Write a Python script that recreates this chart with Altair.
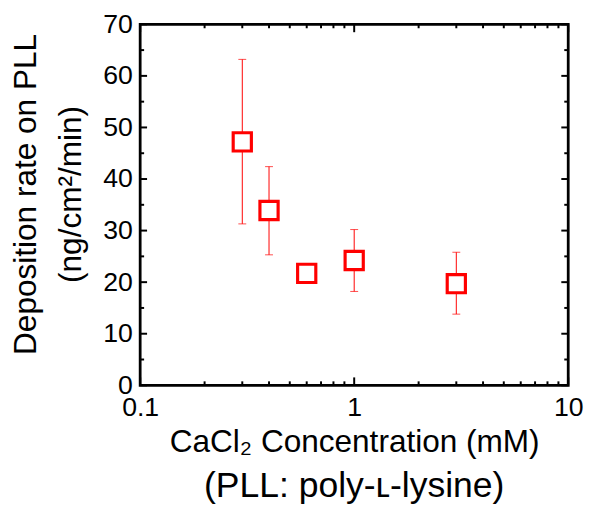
import altair as alt
import pandas as pd

conc = [0.3, 0.4, 0.6, 1.0, 3.0]
rate = [47.2, 33.9, 21.7, 24.2, 19.7]
err_lo = [31.3, 25.3, None, 18.2, 13.8]
err_hi = [63.2, 42.4, None, 30.2, 25.8]

y_major = [0, 10, 20, 30, 40, 50, 60, 70]
y_minor = [5, 15, 25, 35, 45, 55, 65]
x_major = [0.1, 1, 10]
x_minor = [0.2, 0.3, 0.4, 0.5, 0.6, 0.7, 0.8, 0.9, 2, 3, 4, 5, 6, 7, 8, 9]

W, H = 434, 366
RED = "#ff0000"
FONT = "Liberation Sans"

df = pd.DataFrame({"conc": conc, "rate": rate, "lo": err_lo, "hi": err_hi})
err_df = df.dropna()

xscale = alt.Scale(type="log", domain=[0.1, 10], nice=False)
yscale = alt.Scale(domain=[0, 70], nice=False, zero=False)

xaxis = alt.Axis(
    values=x_major, format="~g", ticks=False, grid=False, domain=False,
    labelFontSize=27, labelFont=FONT, labelColor="black", labelPadding=10,
    title="CaCl\u2082 Concentration (mM)",
    titleFontSize=32, titleFont=FONT, titleFontWeight="normal", titleColor="black",
    titlePadding=6, labelFlush=False,
)
yaxis = alt.Axis(
    values=y_major, ticks=False, grid=False, domain=False,
    labelFontSize=27, labelFont=FONT, labelColor="black", labelPadding=8,
    title=["Deposition rate on PLL", "(ng/cm\u00b2/min)"],
    titleFontSize=32, titleFont=FONT, titleFontWeight="normal", titleColor="black",
    titleLineHeight=46, titlePadding=15, titleY=172,
)

base = alt.Chart(df)

points = base.mark_point(
    shape="square", filled=True, fill="white", stroke=RED, strokeWidth=3.2, size=340, opacity=1
).encode(
    x=alt.X("conc:Q", scale=xscale, axis=xaxis),
    y=alt.Y("rate:Q", scale=yscale, axis=yaxis),
)

err_base = alt.Chart(err_df)
bars = err_base.mark_rule(color=RED, strokeWidth=1).encode(
    x=alt.X("conc:Q", scale=xscale), y=alt.Y("lo:Q", scale=yscale), y2="hi:Q"
)
cap_lo = err_base.mark_tick(color=RED, thickness=1, size=8, orient="horizontal").encode(
    x=alt.X("conc:Q", scale=xscale), y=alt.Y("lo:Q", scale=yscale)
)
cap_hi = err_base.mark_tick(color=RED, thickness=1, size=8, orient="horizontal").encode(
    x=alt.X("conc:Q", scale=xscale), y=alt.Y("hi:Q", scale=yscale)
)

ymaj = alt.Chart(pd.DataFrame({"v": y_major}))
ymin = alt.Chart(pd.DataFrame({"v": y_minor}))
xmaj = alt.Chart(pd.DataFrame({"v": x_major}))
xmin = alt.Chart(pd.DataFrame({"v": x_minor}))

tick_style = dict(color="black", strokeWidth=2)
ticks = [
    ymaj.mark_rule(**tick_style).encode(y=alt.Y("v:Q", scale=yscale), x=alt.value(0), x2=alt.value(7)),
    ymaj.mark_rule(**tick_style).encode(y=alt.Y("v:Q", scale=yscale), x=alt.value(W), x2=alt.value(W - 7)),
    ymin.mark_rule(**tick_style).encode(y=alt.Y("v:Q", scale=yscale), x=alt.value(0), x2=alt.value(4)),
    ymin.mark_rule(**tick_style).encode(y=alt.Y("v:Q", scale=yscale), x=alt.value(W), x2=alt.value(W - 4)),
    xmaj.mark_rule(**tick_style).encode(x=alt.X("v:Q", scale=xscale), y=alt.value(H), y2=alt.value(H - 8)),
    xmaj.mark_rule(**tick_style).encode(x=alt.X("v:Q", scale=xscale), y=alt.value(0), y2=alt.value(8)),
    xmin.mark_rule(**tick_style).encode(x=alt.X("v:Q", scale=xscale), y=alt.value(H), y2=alt.value(H - 4)),
    xmin.mark_rule(**tick_style).encode(x=alt.X("v:Q", scale=xscale), y=alt.value(0), y2=alt.value(4)),
]

chart = alt.layer(*ticks, bars, cap_lo, cap_hi, points).properties(
    width=W, height=H,
    title=alt.TitleParams(
        "(PLL: poly-\u029f-lysine)", orient="bottom", anchor="middle",
        fontSize=36, font=FONT, fontWeight="normal", color="black", offset=12,
    ),
    autosize=alt.AutoSizeParams(type="none"),
    padding={"left": 134, "top": 13, "right": 16, "bottom": 130},
    background="white",
).configure_view(stroke="black", strokeWidth=2.8)

chart.save("out.html", embed_options={"renderer": "svg", "actions": False})
